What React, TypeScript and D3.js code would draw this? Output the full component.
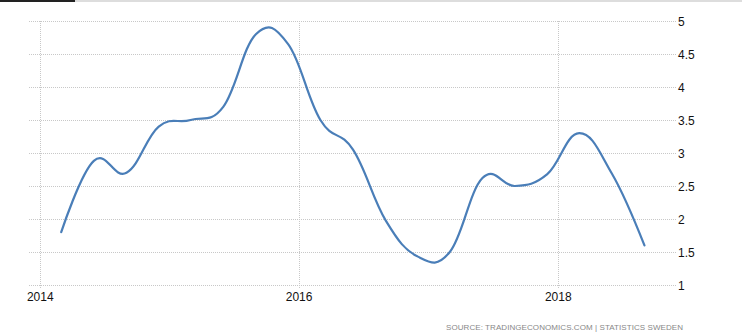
import React from "react";
import * as d3 from "d3";

const dates = [
  "2014-03-01", "2014-06-01", "2014-09-01", "2014-12-01",
  "2015-03-01", "2015-06-01", "2015-09-01", "2015-12-01",
  "2016-03-01", "2016-06-01", "2016-09-01", "2016-12-01",
  "2017-03-01", "2017-06-01", "2017-09-01", "2017-12-01",
  "2018-03-01", "2018-06-01", "2018-09-01",
];
const values = [1.8, 2.88, 2.7, 3.4, 3.5, 3.7, 4.8, 4.65, 3.5, 3.05, 1.98, 1.43, 1.5, 2.62, 2.5, 2.68, 3.3, 2.69, 1.6];
const yTicks = [1, 1.5, 2, 2.5, 3, 3.5, 4, 4.5, 5];
const xTickYears = [2014, 2016, 2018];
const sourceText = "SOURCE: TRADINGECONOMICS.COM | STATISTICS SWEDEN";

const W = 742;
const H = 336;

export default function App() {
  const parse = d3.timeParse("%Y-%m-%d");
  const data = dates.map((d, i) => ({ date: parse(d) as Date, value: values[i] }));

  const x = d3
    .scaleTime()
    .domain([new Date(2014, 0, 1), new Date(2018, 0, 1)])
    .range([40.3, 558.3]);
  const y = d3.scaleLinear().domain([1, 5]).range([285, 21]);

  const line = d3
    .line<{ date: Date; value: number }>()
    .x((d) => x(d.date))
    .y((d) => y(d.value))
    .curve(d3.curveCardinal.tension(-0.2));

  const font = "'Liberation Sans', Arial, sans-serif";
  const gridLeft = 29;
  const gridRight = 676;

  return (
    <svg
      width={W}
      height={H}
      style={{ position: "absolute", left: 0, top: 0, background: "#fff" }}
    >
      <rect x={0} y={0} width={W} height={2} fill="#dddddd" />
      <rect x={0} y={0} width={75} height={2} fill="#222222" />
      {yTicks.map((t) => (
        <g key={"y" + t}>
          <line
            x1={gridLeft}
            x2={gridRight}
            y1={Math.round(y(t)) + 0.5}
            y2={Math.round(y(t)) + 0.5}
            stroke="#c8c8c8"
            strokeWidth={1}
            strokeDasharray="1,1"
          />
          <text
            x={678}
            y={y(t) + 4.5}
            fontFamily={font}
            fontSize={12}
            fill="#111"
          >
            {String(t)}
          </text>
        </g>
      ))}
      {xTickYears.map((yr) => {
        const xx = Math.round(x(new Date(yr, 0, 1))) + 0.5;
        return (
          <g key={"x" + yr}>
            <line
              x1={xx}
              x2={xx}
              y1={21}
              y2={289}
              stroke="#c8c8c8"
              strokeWidth={1}
              strokeDasharray="1,1"
            />
            <text
              x={x(new Date(yr, 0, 1))}
              y={301}
              textAnchor="middle"
              fontFamily={font}
              fontSize={12}
              fill="#111"
            >
              {String(yr)}
            </text>
          </g>
        );
      })}
      <path
        d={line(data) || ""}
        fill="none"
        stroke="#4a7eb8"
        strokeWidth={2.2}
        strokeLinecap="round"
        strokeLinejoin="round"
      />
      <text
        x={446}
        y={330}
        fontFamily={font}
        fontSize={8}
        fill="#888"
        textLength={237}
        lengthAdjust="spacing"
      >
        {sourceText}
      </text>
    </svg>
  );
}
